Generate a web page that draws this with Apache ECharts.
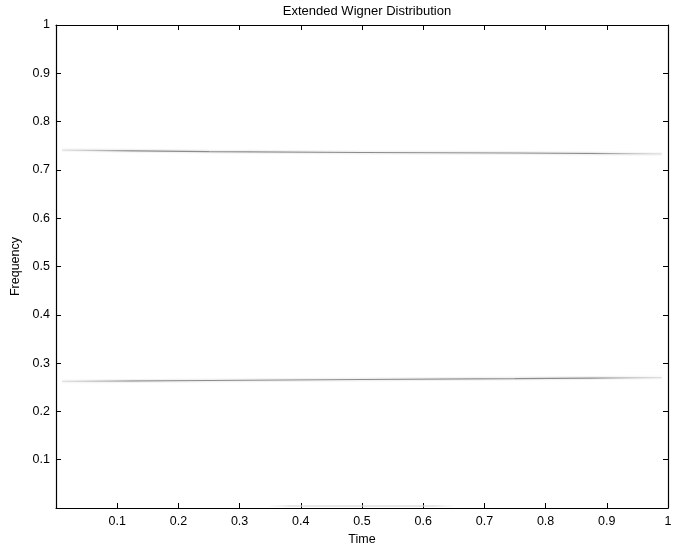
<!DOCTYPE html>
<html>
<head>
<meta charset="utf-8">
<script src="https://cdn.jsdelivr.net/npm/echarts@6/dist/echarts.min.js"></script>
<style>html,body{margin:0;padding:0;background:#fff}#c{width:689px;height:544px}</style>
</head>
<body>
<div id="c"></div>
<script>
// Data
const timePts = [0.01, 0.25, 0.5, 0.75, 0.99];
const upperFreq = [0.741, 0.738, 0.736, 0.735, 0.733];
const lowerFreq = [0.262, 0.264, 0.266, 0.268, 0.270];
const baseTime = [0.35, 0.5, 0.65];
const baseFreq = [0.004, 0.004, 0.004];

const chart = echarts.init(document.getElementById('c'));
const font = 'Liberation Sans, Arial, Helvetica, sans-serif';
const fs = 12.5;
const pair = (xs, ys) => xs.map((x, i) => [x, ys[i]]);
const grad = (a, b) => new echarts.graphic.LinearGradient(0, 0, 1, 0, [
  {offset: 0, color: a}, {offset: 0.12, color: b}, {offset: 0.5, color: b}, {offset: 0.88, color: b}, {offset: 1, color: a}
]);
const lab = v => (v === 0 ? '' : String(+v.toFixed(1)));
const mkAxis = extra => Object.assign({
  type: 'value', min: 0, max: 1, interval: 0.1,
  axisLine: {show: true, onZero: false, lineStyle: {color: '#000', width: 1.2}},
  axisTick: {show: true, inside: true, length: 5, lineStyle: {color: '#000'}},
  splitLine: {show: false},
}, extra);
const lineSeries = (data, c1, c2, w) => ({
  type: 'line', data, showSymbol: false, symbol: 'none', smooth: false,
  lineStyle: {width: w, color: grad(c1, c2)}, silent: true, z: 2
});
chart.setOption({
  animation: false,
  backgroundColor: '#fff',
  title: {
    text: 'Extended Wigner Distribution', left: 362, top: 0, textAlign: 'center',
    textStyle: {fontFamily: font, fontSize: 13, fontWeight: 'normal', color: '#000'}
  },
  grid: {left: 56, right: 21, top: 25, bottom: 36, show: false, containLabel: false, outerBoundsMode: 'none'},
  xAxis: [
    mkAxis({
      position: 'bottom', name: 'Time', nameLocation: 'middle', nameGap: 18,
      nameTextStyle: {fontFamily: font, fontSize: fs, color: '#000'},
      axisLabel: {fontFamily: font, fontSize: fs, color: '#000', margin: 7, formatter: lab}
    }),
    mkAxis({position: 'top', axisLabel: {show: false}})
  ],
  yAxis: [
    mkAxis({
      position: 'left', name: 'Frequency', nameLocation: 'middle', nameGap: 29,
      nameTextStyle: {fontFamily: font, fontSize: fs, color: '#000'},
      axisLabel: {fontFamily: font, fontSize: fs, color: '#000', margin: 6, formatter: lab}
    }),
    mkAxis({position: 'right', axisLabel: {show: false}})
  ],
  series: [
    lineSeries(pair(timePts, upperFreq), 'rgba(225,225,225,0.2)', 'rgba(230,230,230,0.5)', 4),
    lineSeries(pair(timePts, upperFreq), 'rgba(205,205,205,0.5)', '#8c8c8c', 1.2),
    lineSeries(pair(timePts, lowerFreq), 'rgba(225,225,225,0.2)', 'rgba(230,230,230,0.5)', 4),
    lineSeries(pair(timePts, lowerFreq), 'rgba(205,205,205,0.5)', '#8c8c8c', 1.2),
    lineSeries(pair(baseTime, baseFreq), 'rgba(240,240,240,0.2)', 'rgba(215,215,215,0.6)', 2)
  ]
});
</script>
</body>
</html>
